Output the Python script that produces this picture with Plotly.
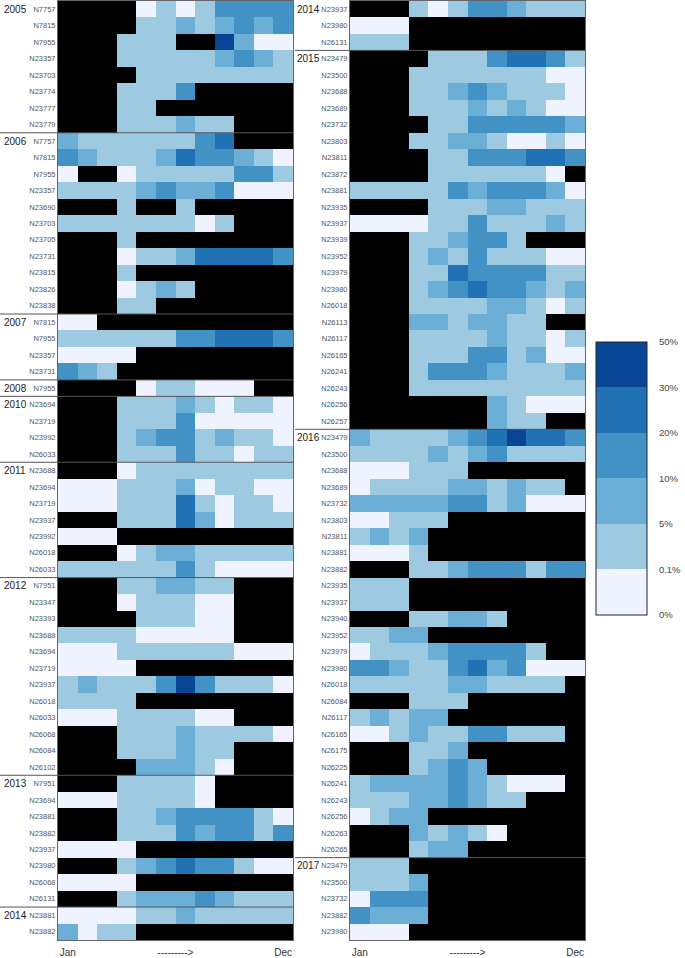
import plotly.graph_objects as go

K = None  # no data: shows the black plot background

colors = ["#EFF3FF", "#9ECAE1", "#6BAED6", "#4292C6", "#2171B5", "#084594"]
bin_labels = ["0%", "0.1%", "5%", "10%", "20%", "30%", "50%"]
month_labels = ["Jan", "--------->", "Dec"]

left_years = [("2005", 8), ("2006", 11), ("2007", 4), ("2008", 1), ("2010", 4),
              ("2011", 7), ("2012", 12), ("2013", 8), ("2014", 2)]
right_years = [("2014", 3), ("2015", 23), ("2016", 26), ("2017", 5)]

left_labels = [
    "N7757", "N7815", "N7955", "N23357", "N23703", "N23774", "N23777", "N23779",
    "N7757", "N7815", "N7955", "N23357", "N23690", "N23703", "N23705", "N23731", "N23815", "N23826", "N23838",
    "N7815", "N7955", "N23357", "N23731",
    "N7955",
    "N23694", "N23719", "N23992", "N26033",
    "N23688", "N23694", "N23719", "N23937", "N23992", "N26018", "N26033",
    "N7951", "N23347", "N23393", "N23688", "N23694", "N23719", "N23937", "N26018", "N26033", "N26068", "N26084", "N26102",
    "N7951", "N23694", "N23881", "N23882", "N23937", "N23980", "N26068", "N26131",
    "N23881", "N23882",
]

left_levels = [
    [K,K,K,K,0,1,0,1,3,3,3,3],
    [K,K,K,K,1,1,2,1,2,3,2,3],
    [K,K,K,1,1,1,K,K,5,2,0,0],
    [K,K,K,1,1,1,1,1,2,3,2,1],
    [K,K,K,K,1,1,1,1,1,1,1,1],
    [K,K,K,1,1,1,3,K,K,K,K,K],
    [K,K,K,1,1,K,K,K,K,K,K,K],
    [K,K,K,1,1,1,2,1,1,K,K,K],
    # 2006
    [2,1,1,1,1,1,1,3,4,K,K,K],
    [3,2,1,1,1,2,4,3,3,2,1,0],
    [0,K,K,0,1,1,1,1,1,3,3,1],
    [1,1,1,1,2,3,2,2,3,0,0,0],
    [K,K,K,1,K,K,1,K,K,K,K,K],
    [1,1,1,1,1,1,1,0,1,K,K,K],
    [K,K,K,1,K,K,K,K,K,K,K,K],
    [K,K,K,0,1,1,2,4,4,4,4,3],
    [K,K,K,1,K,K,K,K,K,K,K,K],
    [K,K,K,0,1,2,1,K,K,K,K,K],
    [K,K,K,1,1,K,K,K,K,K,K,K],
    # 2007
    [0,0,K,K,K,K,K,K,K,K,K,K],
    [1,1,1,1,1,1,3,3,4,4,4,3],
    [0,0,0,0,K,K,K,K,K,K,K,K],
    [3,2,1,K,K,K,K,K,K,K,K,K],
    # 2008
    [K,K,K,K,0,1,1,0,0,0,K,K],
    # 2010
    [K,K,K,1,1,1,2,1,0,1,1,0],
    [K,K,K,1,1,1,3,0,0,0,0,0],
    [K,K,K,1,2,3,3,1,2,1,1,0],
    [K,K,K,1,1,1,3,1,1,0,1,1],
    # 2011
    [K,K,K,0,1,1,1,1,1,1,1,1],
    [0,0,0,1,1,1,2,0,1,1,0,0],
    [0,0,0,1,1,1,4,1,0,1,1,0],
    [K,K,K,1,1,1,4,2,0,1,1,1],
    [0,0,0,K,K,K,K,K,K,K,K,K],
    [K,K,K,0,1,2,2,1,1,1,1,1],
    [1,1,1,1,1,1,3,1,0,0,0,0],
    # 2012
    [K,K,K,1,1,2,2,1,1,K,K,K],
    [K,K,K,0,1,1,1,0,0,K,K,K],
    [K,K,K,K,1,1,1,0,0,K,K,K],
    [1,1,1,1,0,0,0,0,0,K,K,K],
    [0,0,0,1,1,1,1,1,1,0,0,0],
    [0,0,0,0,K,K,K,K,K,K,K,K],
    [1,2,1,1,1,3,5,3,1,1,1,0],
    [1,1,1,1,K,K,K,K,K,K,K,K],
    [0,0,0,1,1,1,1,0,0,K,K,K],
    [K,K,K,1,1,1,2,1,1,1,1,0],
    [K,K,K,1,1,1,2,1,1,K,K,K],
    [K,K,K,K,2,2,2,1,0,K,K,K],
    # 2013
    [K,K,K,1,1,1,1,0,K,K,K,K],
    [0,0,0,1,1,1,1,0,K,K,K,K],
    [K,K,K,1,1,2,3,3,3,3,1,0],
    [K,K,K,1,1,1,3,2,3,3,1,3],
    [0,0,0,0,K,K,K,K,K,K,K,K],
    [K,K,K,1,2,3,4,3,3,1,0,0],
    [0,0,0,0,K,K,K,K,K,K,K,K],
    [K,K,K,1,2,2,2,3,2,1,1,1],
    # 2014
    [0,0,0,0,1,1,2,1,1,1,1,1],
    [2,0,1,1,K,K,K,K,K,K,K,K],
]

right_labels = [
    "N23937", "N23980", "N26131",
    "N23479", "N23500", "N23688", "N23689", "N23732", "N23803", "N23811", "N23872", "N23881", "N23935", "N23937",
    "N23939", "N23952", "N23979", "N23980", "N26018", "N26113", "N26117", "N26165", "N26241", "N26243", "N26256", "N26257",
    "N23479", "N23500", "N23688", "N23689", "N23732", "N23803", "N23811", "N23881", "N23882", "N23935", "N23937",
    "N23940", "N23952", "N23979", "N23980", "N26018", "N26084", "N26117", "N26165", "N26175", "N26225", "N26241",
    "N26243", "N26256", "N26263", "N26265",
    "N23479", "N23500", "N23732", "N23882", "N23980",
]

right_levels = [
    [K,K,K,1,0,1,3,3,2,1,1,1],
    [0,0,0,K,K,K,K,K,K,K,K,K],
    [1,1,1,K,K,K,K,K,K,K,K,K],
    # 2015
    [K,K,K,K,1,1,1,3,4,4,3,1],
    [K,K,K,1,1,1,1,1,1,1,0,0],
    [K,K,K,1,1,2,3,2,1,1,1,0],
    [K,K,K,1,1,1,2,1,2,1,0,0],
    [K,K,K,K,1,1,3,3,3,3,3,2],
    [K,K,K,1,1,2,2,1,0,0,1,0],
    [K,K,K,K,1,1,3,3,3,4,4,3],
    [K,K,K,K,1,1,1,1,1,1,0,K],
    [1,1,1,1,1,3,2,3,3,3,2,0],
    [K,K,K,K,1,1,1,2,2,1,1,1],
    [0,0,0,0,1,1,3,1,1,1,2,1],
    [K,K,K,1,1,2,3,3,1,K,K,K],
    [K,K,K,1,2,1,3,1,1,1,0,0],
    [K,K,K,1,1,4,3,3,3,3,1,1],
    [K,K,K,1,2,3,4,3,3,2,1,2],
    [K,K,K,1,1,1,1,2,2,1,0,1],
    [K,K,K,2,2,1,2,2,1,1,K,K],
    [K,K,K,1,1,1,1,2,1,1,0,1],
    [K,K,K,1,1,1,3,3,1,2,0,0],
    [K,K,K,1,3,3,3,2,1,1,1,2],
    [K,K,K,1,1,1,1,1,1,1,1,1],
    [K,K,K,K,K,K,K,2,1,0,0,0],
    [K,K,K,K,K,K,K,2,1,1,K,K],
    # 2016
    [2,1,1,1,1,2,3,4,5,4,4,3],
    [1,1,1,1,2,1,2,3,1,1,1,1],
    [0,0,0,1,1,1,K,K,K,K,K,K],
    [0,1,1,1,1,2,2,1,2,1,1,K],
    [2,2,2,2,2,3,3,1,2,0,0,0],
    [0,0,1,1,1,K,K,K,K,K,K,K],
    [1,2,1,2,K,K,K,K,K,K,K,K],
    [0,0,0,1,K,K,K,K,K,K,K,K],
    [K,K,K,1,1,2,3,3,3,1,3,3],
    [1,1,1,K,K,K,K,K,K,K,K,K],
    [1,1,1,K,K,K,K,K,K,K,K,K],
    [K,K,K,1,1,2,2,1,K,K,K,K],
    [1,1,2,2,K,K,K,K,K,K,K,K],
    [0,1,1,1,2,3,3,3,3,1,K,K],
    [3,3,2,1,1,3,4,2,3,0,0,0],
    [1,1,1,1,1,2,2,1,1,1,1,K],
    [K,K,K,1,1,1,K,K,K,K,K,K],
    [1,2,1,2,2,K,K,K,K,K,K,K],
    [0,0,1,2,1,1,3,3,1,1,1,K],
    [K,K,K,1,1,2,K,K,K,K,K,K],
    [K,K,K,1,2,3,2,K,K,K,K,K],
    [1,2,2,2,2,3,2,1,0,0,0,K],
    [1,1,1,2,2,3,2,1,1,K,K,K],
    [0,1,2,2,K,K,K,K,K,K,K,K],
    [K,K,K,2,1,2,1,0,K,K,K,K],
    [K,K,K,1,2,2,K,K,K,K,K,K],
    # 2017
    [1,1,1,K,K,K,K,K,K,K,K,K],
    [1,1,1,2,K,K,K,K,K,K,K,K],
    [0,3,3,3,K,K,K,K,K,K,K,K],
    [3,2,2,2,K,K,K,K,K,K,K,K],
    [0,0,0,K,K,K,K,K,K,K,K,K],
]

W, H = 685, 958
FONT = "Liberation Sans, Arial, sans-serif"

fig = go.Figure()
n = len(colors)
scale = []
for i, c in enumerate(colors):
    scale += [[i / n, c], [(i + 1) / n, c]]

panels = [
    ("x", "y", 58, 293, 0, left_levels, left_labels, left_years, 2),
    ("x2", "y2", 350, 585, 295, right_levels, right_labels, right_years, 295),
]
shapes, annotations = [], []
for xa, ya, x0, x1, line_from, levels, labels, years, year_x in panels:
    fig.add_trace(go.Heatmap(z=levels, xaxis=xa, yaxis=ya, coloraxis="coloraxis",
                             xgap=0, ygap=0, hoverongaps=False))
    suffix = xa[1:]
    line_style = dict(showgrid=False, zeroline=False, showline=True, linecolor="#666666",
                      linewidth=1, mirror=True)
    fig.update_layout({
        "xaxis" + suffix: dict(domain=[x0 / W, x1 / W], range=[-0.5, 11.5], anchor=ya,
                               tickmode="array", tickvals=[0, 5.5, 11], ticktext=month_labels,
                               ticks="outside", ticklen=3, tickcolor="rgba(0,0,0,0)",
                               tickangle=0, tickfont=dict(size=10, color="#333333", family=FONT),
                               **line_style),
        "yaxis" + suffix: dict(domain=[18 / H, 957 / H], range=[len(labels) - 0.5, -0.5], anchor=xa,
                               tickmode="array", tickvals=list(range(len(labels))), ticktext=labels,
                               ticks="", ticklen=0,
                               tickfont=dict(size=7.5, color="#555555", family=FONT),
                               **line_style),
    })
    row = 0
    for year, count in years:
        annotations.append(dict(text=year, xref="paper", yref=ya, x=year_x / W, y=row,
                                xanchor="left", yanchor="middle", showarrow=False,
                                font=dict(size=10, color="#222222", family=FONT)))
        if row > 0:
            shapes.append(dict(type="line", xref="paper", yref=ya, x0=line_from / W, x1=x1 / W,
                               y0=row - 0.5, y1=row - 0.5, line=dict(color="#555555", width=1)))
        row += count

tick_vals = [i - 0.5 for i in range(len(bin_labels))]
fig.update_layout(
    width=W, height=H,
    margin=dict(l=0, r=0, t=0, b=0, autoexpand=False),
    paper_bgcolor="white", plot_bgcolor="black",
    font=dict(family=FONT),
    coloraxis=dict(
        cmin=-0.5, cmax=5.5, colorscale=scale,
        colorbar=dict(
            x=596 / W, xanchor="left", y=1 - 478.5 / H, yanchor="middle",
            lenmode="pixels", len=273, thicknessmode="pixels", thickness=51,
            xpad=0, ypad=0, outlinecolor="#222233", outlinewidth=1,
            tickmode="array", tickvals=tick_vals, ticktext=bin_labels,
            ticks="outside", ticklen=10, tickcolor="rgba(0,0,0,0)",
            tickfont=dict(size=9.5, color="#444444", family=FONT),
        ),
    ),
    shapes=shapes, annotations=annotations,
)

fig.write_html("out.html", config={"displayModeBar": False},
               post_script="document.body.style.margin='0';")
